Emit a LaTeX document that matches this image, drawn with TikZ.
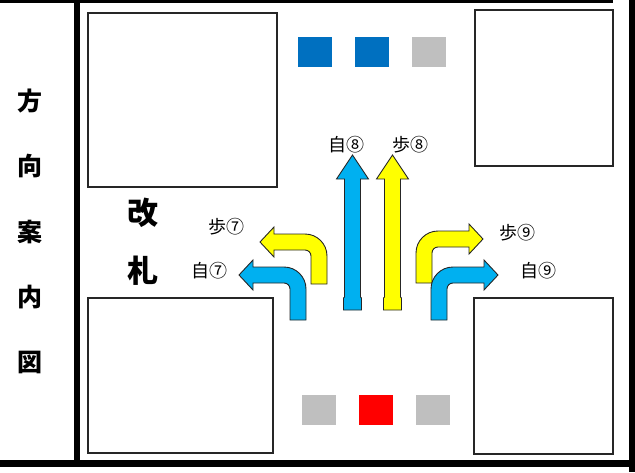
\documentclass[tikz,border=0pt]{standalone}
\usepackage{fontspec}
\newfontfamily\cjk{Noto Sans CJK JP}
\usepackage{tikz}
\usetikzlibrary{positioning}
\definecolor{sigblue}{HTML}{0070C0}
\definecolor{lampgray}{HTML}{BFBFBF}
\definecolor{arrowblue}{HTML}{00B0F0}
\definecolor{arrowyellow}{HTML}{FFFF00}
\tikzstyle{blackband} = [fill=black]
\tikzstyle{bldg} = [draw=black!85, line width=1.2pt, fill=white]
\tikzstyle{lamp} = [rectangle, minimum width=34pt, minimum height=30pt, inner sep=0pt]
\tikzstyle{yellowarrow} = [draw=black!85, line width=0.9pt, fill=arrowyellow]
\tikzstyle{bluearrow} = [draw=black!85, line width=0.9pt, fill=arrowblue]
\tikzstyle{sign} = [font=\cjk\fontsize{18}{18}\selectfont, inner sep=0pt]
\tikzstyle{sidechar} = [font=\cjk\bfseries\fontsize{25}{25}\selectfont, inner sep=0pt, minimum height=28pt, text centered]
\tikzstyle{gate} = [font=\cjk\bfseries\fontsize{31}{31}\selectfont, inner sep=0pt, minimum height=32pt, text centered]
% turning arrow, drawn as a left turn; #1 = length of the stem below the bend
\newcommand{\leftturn}[1]{(-8,#1) -- (8,#1) -- (8,14) .. controls (8,1.85) and (-1.85,-8) .. (-14,-8) -- (-45,-8) -- (-45,-15) -- (-59,0) -- (-45,15) -- (-45,8) -- (-14,8) .. controls (-10.69,8) and (-8,10.69) .. (-8,14) -- cycle}
% straight arrow pointing up
\newcommand{\straightup}{(-9,310) -- (9,310) -- (9,298) -- (8,297) -- (8,179) -- (16,179) -- (0,155) -- (-16,179) -- (-8,179) -- (-8,297) -- (-9,298) -- cycle}

\begin{document}
\begin{tikzpicture}[x=1pt, y=-1pt, node distance=37pt]
  \useasboundingbox (0,0) rectangle (635,472);

  % frame
  \fill[blackband] (0,0) rectangle (613,3);
  \fill[blackband] (74,0) rectangle (80,467);
  \fill[blackband] (0,460) rectangle (629,467);
  \fill[blackband] (629,0) rectangle (635,472);

  % buildings
  \draw[bldg] (88,13) rectangle (277,187);
  \draw[bldg] (475,10) rectangle (613,166);
  \draw[bldg] (88,298) rectangle (273,453);
  \draw[bldg] (474,298) rectangle (613,454);

  % signals
  \node (sigN1) [lamp, fill=sigblue] at (314.5,52) {};
  \node (sigN2) [lamp, fill=sigblue, right=23pt of sigN1] {};
  \node (sigN3) [lamp, fill=lampgray, right=23pt of sigN2] {};
  \node (sigS1) [lamp, fill=lampgray] at (318.5,409.5) {};
  \node (sigS2) [lamp, fill=red, right=23pt of sigS1] {};
  \node (sigS3) [lamp, fill=lampgray, right=23pt of sigS2] {};

  % arrows
  \draw[yellowarrow, shift={(319,242)}] \leftturn{42};
  \draw[bluearrow, shift={(298,275)}] \leftturn{45};
  \draw[bluearrow, shift={(352.5,0)}] \straightup;
  \draw[yellowarrow, shift={(392.5,0)}] \straightup;
  \draw[yellowarrow, shift={(424,239)}, xscale=-1] \leftturn{44};
  \draw[bluearrow, shift={(439,275)}, xscale=-1] \leftturn{45};

  % labels
  \node (ho7) [sign] at (226,227) {歩⑦};
  \node (ji7) [sign] at (209,271) {自⑦};
  \node (ji8) [sign] at (346,145) {自⑧};
  \node (ho8) [sign] at (410,145) {歩⑧};
  \node (ho9) [sign] at (517,233) {歩⑨};
  \node (ji9) [sign] at (538,271) {自⑨};

  \node (kai) [gate] at (143,213) {改};
  \node (satsu) [gate, below=25pt of kai] {札};

  \node (hou) [sidechar] at (30,101) {方};
  \node (kou) [sidechar, below=of hou] {向};
  \node (an) [sidechar, below=of kou] {案};
  \node (nai) [sidechar, below=of an] {内};
  \node (zu) [sidechar, below=of nai] {図};
\end{tikzpicture}
\end{document}
